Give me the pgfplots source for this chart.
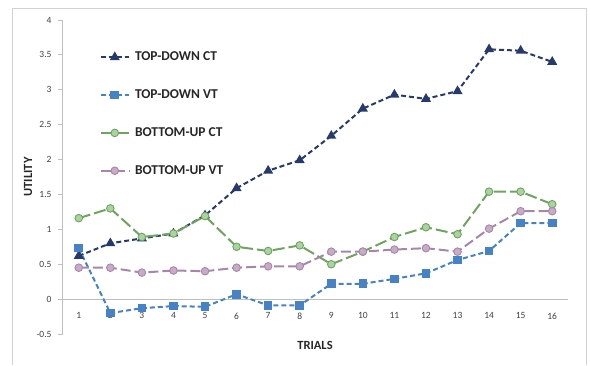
\documentclass[border=0pt]{standalone}
\usepackage{pgfplots}
\pgfplotsset{compat=1.18}
\usepackage{fontspec}
\setmainfont{Carlito}
\definecolor{tdct}{HTML}{263B6C}
\definecolor{tdvt}{HTML}{4682C6}
\definecolor{buctl}{HTML}{6FA35F}
\definecolor{buctf}{HTML}{A9D4A0}
\definecolor{buvtl}{HTML}{A588A9}
\definecolor{buvtf}{HTML}{C9ABC7}
\definecolor{axgray}{HTML}{BFBFBF}
\begin{document}
\begin{tikzpicture}[x=1pt,y=1pt]
\path[use as bounding box] (0,0) rectangle (590,365);
\draw[axgray!70, line width=0.8pt] (12,0) -- (12,357) -- (586,357) -- (586,0);
\begin{axis}[
  at={(63pt,31pt)}, anchor=south west,
  scale only axis, width=505pt, height=314pt,
  xmin=0.5, xmax=16.5, ymin=-0.5, ymax=4,
  axis y line*=left, axis x line*=middle,
  x axis line style={-, axgray, line width=1pt},
  y axis line style={-, axgray, line width=1pt},
  xtick={1,...,16}, ytick={-0.5,0,...,4},
  xtick style={draw=none},
  ytick style={axgray, line width=0.8pt},
  tick align=outside, major tick length=5pt,
  /pgf/number format/assume math mode=true,
  /pgf/number format/fixed,
  ticklabel style={font=\fontsize{9.5}{11}\selectfont, text=black!75},
  xticklabel style={yshift=-5pt},
  yticklabel style={xshift=-3pt},
  legend cell align=left,
  legend style={at={(0.072,0.905)}, anchor=north west, draw=none, fill=none,
    font=\bfseries\fontsize{13.5}{15}\selectfont, text=black!85, row sep=23.5pt, inner sep=0pt,
    nodes={inner xsep=5pt}},
  legend image code/.code={\draw[mark repeat=2,mark phase=2] plot coordinates {(0cm,0cm) (0.5cm,0cm) (1.0cm,0cm)};},
  clip=false,
]
\addplot[tdct, line width=2pt, dash pattern=on 5pt off 3pt, mark=triangle*, mark size=3.8pt, mark options={solid, fill=tdct}]
 coordinates {(1,0.62) (2,0.80) (3,0.87) (4,0.94) (5,1.20) (6,1.59) (7,1.84) (8,1.99) (9,2.34) (10,2.73) (11,2.93) (12,2.87) (13,2.98) (14,3.58) (15,3.56) (16,3.40)};
\addlegendentry{TOP-DOWN CT}
\addplot[tdvt, line width=2pt, dash pattern=on 5pt off 3pt, mark=square*, mark size=3.3pt, mark options={solid, fill=tdvt}]
 coordinates {(1,0.73) (2,-0.20) (3,-0.13) (4,-0.10) (5,-0.11) (6,0.07) (7,-0.09) (8,-0.09) (9,0.22) (10,0.22) (11,0.29) (12,0.37) (13,0.56) (14,0.69) (15,1.09) (16,1.09)};
\addlegendentry{TOP-DOWN VT}
\addplot[buctl, line width=2pt, dash pattern=on 12pt off 4pt, mark=*, mark size=3.8pt, mark options={solid, fill=buctf, draw=buctl, line width=0.9pt}]
 coordinates {(1,1.16) (2,1.30) (3,0.89) (4,0.94) (5,1.19) (6,0.75) (7,0.69) (8,0.77) (9,0.50) (10,0.68) (11,0.89) (12,1.03) (13,0.93) (14,1.54) (15,1.54) (16,1.36)};
\addlegendentry{BOTTOM-UP CT}
\addplot[buvtl, line width=2pt, dash pattern=on 10pt off 4pt, mark=*, mark size=3.8pt, mark options={solid, fill=buvtf, draw=buvtl, line width=0.9pt}]
 coordinates {(1,0.45) (2,0.45) (3,0.38) (4,0.41) (5,0.40) (6,0.45) (7,0.47) (8,0.47) (9,0.68) (10,0.68) (11,0.71) (12,0.73) (13,0.68) (14,1.01) (15,1.26) (16,1.26)};
\addlegendentry{BOTTOM-UP VT}
\end{axis}
\node[font=\bfseries\fontsize{12.5}{14}\selectfont, text=black!85] at (315,20) {TRIALS};
\node[font=\bfseries\fontsize{12.5}{14}\selectfont, text=black!85, rotate=90] at (28,188) {UTILITY};
\end{tikzpicture}
\end{document}
